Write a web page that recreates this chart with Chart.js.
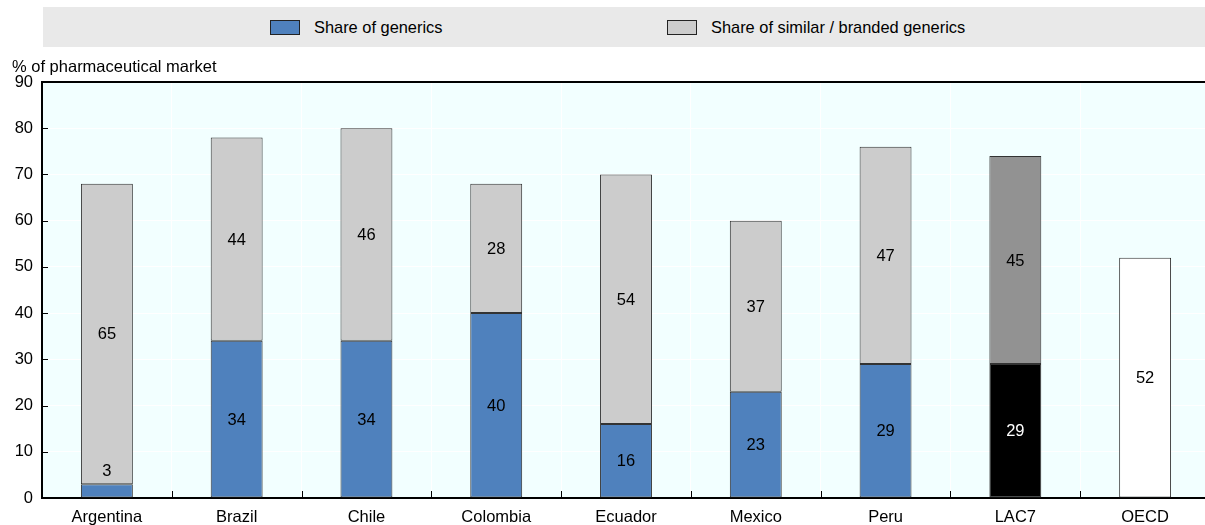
<!DOCTYPE html>
<html>
<head>
<meta charset="utf-8">
<script src="https://cdn.jsdelivr.net/npm/chart.js@4/dist/chart.umd.min.js"></script>
<style>
  html, body { margin: 0; padding: 0; background: #fff; }
  #wrap { position: relative; width: 1205px; height: 525px; overflow: hidden; font-family: "Liberation Sans", Arial, sans-serif; }
  #legend { position: absolute; left: 43px; top: 7px; width: 1162px; height: 40px; background: #E9E9E9; }
  .item { position: absolute; top: 0; height: 40px; display: flex; align-items: center; font-size: 16.4px; color: #000; white-space: nowrap; }
  .sw { width: 28px; height: 13px; border: 1px solid #222; margin-right: 14px; }
  canvas { position: absolute; left: 0; top: 0; }
</style>
</head>
<body>
<div id="wrap">
  <canvas id="c" width="1210" height="525"></canvas>
  <div id="legend">
    <div class="item" style="left:227px"><span class="sw" style="background:#4F81BD"></span>Share of generics</div>
    <div class="item" style="left:624px"><span class="sw" style="background:#CCCCCC"></span>Share of similar / branded generics</div>
  </div>
</div>
<script>
const categories = ["Argentina", "Brazil", "Chile", "Colombia", "Ecuador", "Mexico", "Peru", "LAC7", "OECD"];
const genericsShare = [3, 34, 34, 40, 16, 23, 29, 29, null];
const similarShare  = [65, 44, 46, 28, 54, 37, 47, 45, null];
const oecdShare     = [null, null, null, null, null, null, null, null, 52];
const yTicks = [0, 10, 20, 30, 40, 50, 60, 70, 80, 90];

const FONT = { family: '"Liberation Sans", Arial, sans-serif', size: 16.5 };

const genericsColors = categories.map(c => c === "LAC7" ? "#000000" : "#4F81BD");
const similarColors  = categories.map(c => c === "LAC7" ? "#929292" : "#CCCCCC");

// Plot background, top frame line, inward tick marks and the axis caption
const framePlugin = {
  id: 'frame',
  beforeDraw(chart) {
    const { ctx, chartArea: a } = chart;
    ctx.save();
    ctx.fillStyle = '#F2FFFF';
    ctx.fillRect(a.left, a.top, a.right - a.left, a.bottom - a.top);
    ctx.restore();
  },
  afterDraw(chart) {
    const { ctx, chartArea: a, scales } = chart;
    ctx.save();
    ctx.strokeStyle = '#000';
    ctx.lineWidth = 2;
    ctx.beginPath();
    ctx.moveTo(a.left - 1, a.top);
    ctx.lineTo(a.right, a.top);
    ctx.stroke();
    ctx.lineWidth = 1;
    ctx.beginPath();
    yTicks.forEach(v => {
      const y = Math.round(scales.y.getPixelForValue(v)) + 0.5;
      ctx.moveTo(a.left, y);
      ctx.lineTo(a.left + 6, y);
    });
    const n = categories.length;
    for (let i = 1; i < n; i++) {
      const x = Math.round((scales.x.getPixelForValue(i - 1) + scales.x.getPixelForValue(i)) / 2) + 0.5;
      ctx.moveTo(x, a.bottom);
      ctx.lineTo(x, a.bottom - 7);
    }
    ctx.stroke();
    ctx.fillStyle = '#000';
    ctx.font = `${FONT.size}px ${FONT.family}`;
    ctx.textAlign = 'left';
    ctx.textBaseline = 'alphabetic';
    ctx.fillText('% of pharmaceutical market', 12, 72);
    ctx.restore();
  }
};

// Value labels centred in each segment (small segments get the label above)
const labelPlugin = {
  id: 'valueLabels',
  afterDatasetsDraw(chart) {
    const { ctx } = chart;
    ctx.save();
    ctx.font = `${FONT.size}px ${FONT.family}`;
    ctx.textAlign = 'center';
    ctx.textBaseline = 'middle';
    chart.data.datasets.forEach((ds, di) => {
      const meta = chart.getDatasetMeta(di);
      meta.data.forEach((bar, i) => {
        const v = ds.data[i];
        if (v == null) return;
        const props = bar.getProps(['x', 'y', 'base'], true);
        const h = props.base - props.y;
        let y = (props.y + props.base) / 2 + 1;
        if (h < 20) y = props.y - 13;
        ctx.fillStyle = (categories[i] === 'LAC7' && di === 0) ? '#FFFFFF' : '#000000';
        ctx.fillText(String(v), props.x, y);
      });
    });
    ctx.restore();
  }
};

new Chart(document.getElementById('c'), {
  type: 'bar',
  data: {
    labels: categories,
    datasets: [
      { label: 'Share of generics', data: genericsShare, backgroundColor: genericsColors,
        borderColor: '#333333', borderWidth: 1, borderSkipped: false, stack: 's', barPercentage: 0.4, categoryPercentage: 1 },
      { label: 'Share of similar / branded generics', data: similarShare, backgroundColor: similarColors,
        borderColor: '#333333', borderWidth: 1, borderSkipped: false, stack: 's', barPercentage: 0.4, categoryPercentage: 1 },
      { label: 'OECD', data: oecdShare, backgroundColor: '#FFFFFF',
        borderColor: '#333333', borderWidth: 1, borderSkipped: false, stack: 's', barPercentage: 0.4, categoryPercentage: 1 }
    ]
  },
  options: {
    responsive: false,
    animation: false,
    devicePixelRatio: 1,
    layout: { padding: { top: 82, right: 0, bottom: 0, left: 0 } },
    plugins: { legend: { display: false }, tooltip: { enabled: false } },
    scales: {
      x: {
        stacked: true,
        grid: { color: '#FFFFFF', lineWidth: 1, drawTicks: false, offset: true },
        border: { color: '#000000', width: 2 },
        ticks: { color: '#000', font: FONT, padding: 10, maxRotation: 0, autoSkip: false },
        afterFit(scale) { scale.height = 27; }
      },
      y: {
        stacked: true,
        min: 0, max: 90,
        grid: { color: '#FFFFFF', lineWidth: 1, drawTicks: false },
        border: { color: '#000000', width: 2 },
        ticks: { color: '#000', font: FONT, padding: 9, stepSize: 10 },
        afterFit(scale) { scale.width = 42; }
      }
    }
  },
  plugins: [framePlugin, labelPlugin]
});
</script>
</body>
</html>
